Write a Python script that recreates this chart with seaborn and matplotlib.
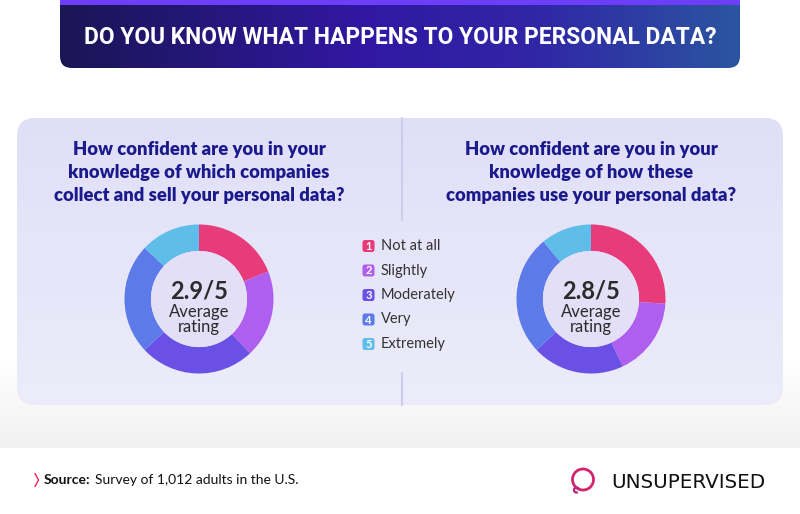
import numpy as np
import matplotlib
matplotlib.use("Agg")
import matplotlib.pyplot as plt
import seaborn as sns
from matplotlib.patches import FancyBboxPatch, Rectangle, Circle, Arc
from matplotlib.colors import LinearSegmentedColormap

# ---------------- data ----------------
title = "DO YOU KNOW WHAT HAPPENS TO YOUR PERSONAL DATA?"
categories = ["Not at all", "Slightly", "Moderately", "Very", "Extremely"]
category_numbers = ["1", "2", "3", "4", "5"]
q1_lines = ["How confident are you in your",
            "knowledge of which companies",
            "collect and sell your personal data?"]
q2_lines = ["How confident are you in your",
            "knowledge of how these",
            "companies use your personal data?"]
q1_values = [19, 19, 25, 24, 13]
q2_values = [26, 17, 20, 26, 11]
averages = ["2.9/5", "2.8/5"]
avg_caption = "Average\nrating"
source_label = "Source:"
source_text = "Survey of 1,012 adults in the U.S."
brand = "UNSUPERVISED"

colors = ["#E83B7A", "#AE5FEE", "#6A50E5", "#5C7AE8", "#5EBDE9"]

sns.set_theme(style="white")
palette = sns.color_palette(colors)

W, H = 800, 514
fig = plt.figure(figsize=(W / 100, H / 100), dpi=100)
fig.patch.set_facecolor("white")

bg = fig.add_axes([0, 0, 1, 1])
bg.set_xlim(0, W)
bg.set_ylim(H, 0)
bg.axis("off")

def vgrad(ax, x0, x1, y0, y1, c0, c1, clip=None, z=0, horizontal=False, cmap=None):
    if cmap is None:
        cmap = LinearSegmentedColormap.from_list("g", [c0, c1])
    if horizontal:
        g = np.linspace(0, 1, 256)[None, :]
    else:
        g = np.linspace(0, 1, 256)[:, None]
    im = ax.imshow(g, cmap=cmap, extent=[x0, x1, y1, y0], origin="upper",
                   aspect="auto", zorder=z, interpolation="bicubic")
    if clip is not None:
        im.set_clip_path(clip)
    return im

# light gray fade behind the panel
vgrad(bg, 0, W, 360, 448, "#FFFFFF", "#F1F1F1", z=0)
bg.set_xlim(0, W); bg.set_ylim(H, 0)

# top banner
banner = FancyBboxPatch((60, -30), 680, 98, boxstyle="round,pad=0,rounding_size=12",
                        facecolor="none", edgecolor="none", zorder=1)
bg.add_patch(banner)
bcmap = LinearSegmentedColormap.from_list(
    "b", [(0, "#1B1555"), (0.45, "#3118A3"), (0.7, "#3026A6"), (1, "#2B55A0")])
vgrad(bg, 60, 740, -30, 68, None, None, clip=banner, z=1, horizontal=True, cmap=bcmap)
bg.add_patch(Rectangle((60, 0), 680, 5, facecolor="#6C3EF8", edgecolor="none", zorder=2))
t = bg.text(400, 37, title, color="white", fontsize=18, fontweight="bold",
            family="Roboto", ha="center", va="center", zorder=3)

# panel
panel = FancyBboxPatch((17, 118), 766, 287, boxstyle="round,pad=0,rounding_size=18",
                       facecolor="none", edgecolor="none", zorder=1)
bg.add_patch(panel)
vgrad(bg, 17, 783, 118, 405, "#E0DFF8", "#EDECFA", clip=panel, z=1)
bg.plot([402, 402], [118, 220], color="#CECCEA", lw=1.5, zorder=2)
bg.plot([402, 402], [373, 405], color="#CECCEA", lw=1.5, zorder=2)
bg.set_xlim(0, W); bg.set_ylim(H, 0)

renderer = fig.canvas.get_renderer()

def fit(txt, target):
    w = txt.get_window_extent(renderer).width
    txt.set_fontsize(txt.get_fontsize() * target / w)

# question titles
qcolor = "#1B1A8C"
q_first = []
q_all = []
for cx, lines in [(199, q1_lines), (591, q2_lines)]:
    for i, line in enumerate(lines):
        tx = bg.text(cx, 149 + i * 23.5, line, color=qcolor, fontsize=13.5,
                     fontweight="heavy", family="Lato", ha="center",
                     va="center", zorder=3)
        q_all.append(tx)
        if i == 0:
            q_first.append(tx)
fit(q_first[0], 252)
qsize = q_first[0].get_fontsize()
for tx in q_all:
    tx.set_fontsize(qsize)

# legend
for i, (num, cat) in enumerate(zip(category_numbers, categories)):
    y = 246 + i * 24.5
    bg.add_patch(FancyBboxPatch((362.5, y - 6), 12, 12,
                                boxstyle="round,pad=0,rounding_size=2.5",
                                facecolor=palette[i], edgecolor="none", zorder=3))
    bg.text(368.5, y + 0.5, num, color="white", fontsize=8, fontweight="bold",
            family="Lato", ha="center", va="center", zorder=4)
    bg.text(381, y, cat, color="#333333", fontsize=10.5, family="Lato",
            ha="left", va="center", zorder=4)

# donuts
R = 76
lim = 1.02
px = 2 * lim / (2 * R)  # data units per pixel
for cx, vals, avg in [(199, q1_values, averages[0]), (591, q2_values, averages[1])]:
    cy = 299
    ax = fig.add_axes([(cx - R) / W, (H - cy - R) / H, 2 * R / W, 2 * R / H])
    ax.pie(vals, colors=palette, startangle=90, counterclock=False,
           wedgeprops=dict(width=0.355, edgecolor="none"), radius=1)
    ax.add_patch(Circle((0, 0), 0.645, facecolor="#E2DFF6", edgecolor="none", zorder=3))
    ax.set_xlim(-lim, lim); ax.set_ylim(-lim, lim)
    ax.set_aspect("equal")
    ax.axis("off")
    ax.patch.set_alpha(0)
    ax.text(0, (cy - 291) * px, avg, color="#2B2B2B", fontsize=17, fontweight="bold",
            family="Lato", ha="center", va="center", zorder=5)
    ax.text(0, (cy - 319.5) * px, avg_caption, color="#2B2B2B", fontsize=12,
            family="Lato", ha="center", va="center", linespacing=0.85, zorder=5)

# footer
bg.plot([35, 38.5, 35], [473.5, 480, 486.5], color="#E8336F", lw=1.1, zorder=3)
s1 = bg.text(44, 480, source_label, color="#111111", fontsize=10, fontweight="bold",
             family="Lato", ha="left", va="center", zorder=3)
bb = s1.get_window_extent(renderer)
s2 = bg.text(44 + bb.width + 4, 480, source_text, color="#111111", fontsize=10,
             family="Lato", ha="left", va="center", zorder=3)

# logo
bg.add_patch(Circle((583, 479.5), 10.5, facecolor="none", edgecolor="#D42470", lw=2, zorder=3))
bg.add_patch(Arc((576.5, 490), 5, 5, theta1=60, theta2=330, edgecolor="#B5247A", lw=1.6, zorder=3))
lg = bg.text(611, 482, brand, color="#111111", fontsize=12.5, family="DejaVu Sans",
             ha="left", va="center", zorder=3)

fit(t, 634)
fit(lg, 154)

bg.set_xlim(0, W); bg.set_ylim(H, 0)
fig.savefig("out.png", dpi=100)
